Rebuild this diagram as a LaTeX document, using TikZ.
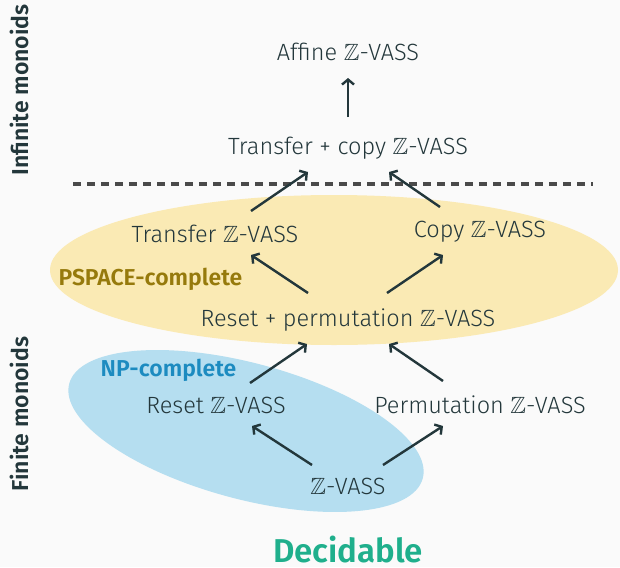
\documentclass[tikz,border=0pt]{standalone}
\usepackage{amssymb}
\usepackage{fontspec}
\setmainfont{Fira Sans Light}[BoldFont={Fira Sans SemiBold}]
\usetikzlibrary{arrows.meta}
\definecolor{bgc}{HTML}{FAFAFA}
\definecolor{txt}{HTML}{23373B}
\definecolor{yel}{HTML}{FAEAB4}
\definecolor{blu}{HTML}{B5DEF0}
\definecolor{psp}{HTML}{967A0C}
\definecolor{npc}{HTML}{1C8BC0}
\definecolor{dec}{HTML}{1FAF8C}
\definecolor{dsh}{HTML}{4A4A4A}
\newcommand{\ZZ}{$\mathbb{Z}$}
\tikzset{
  cls/.style={anchor=base, inner sep=0pt, text=txt, font=\fontsize{23.5}{28}\selectfont},
  lab/.style={anchor=base, inner sep=0pt, font=\fontsize{23}{28}\selectfont\bfseries},
  arr/.style={draw=txt, line width=2.4pt, -{Straight Barb[length=5pt,width=12pt,line width=2.4pt]}}
}
\begin{document}
\begin{tikzpicture}[x=1pt,y=-1pt]
\useasboundingbox (0,0) rectangle (620,567);
\fill[bgc] (0,0) rectangle (620,567);
% regions
\fill[yel] (334,270) ellipse [x radius=284, y radius=75];
\fill[blu, rotate around={-15:(246,431)}] (246,431) ellipse [x radius=183, y radius=68];
\draw[dsh, line width=3.5pt, dash pattern=on 8pt off 6pt] (73,184) -- (593,184);
% nodes
\node[cls] (aff) at (348,61) {Affine \ZZ-VASS};
\node[cls] (tc) at (348,154) {Transfer + copy \ZZ-VASS};
\node[cls] (tr) at (215,242) {Transfer \ZZ-VASS};
\node[cls] (cp) at (480,237) {Copy \ZZ-VASS};
\node[cls] (rp) at (348,326) {Reset + permutation \ZZ-VASS};
\node[cls] (rs) at (216,413) {Reset \ZZ-VASS};
\node[cls] (pm) at (480,413) {Permutation \ZZ-VASS};
\node[cls] (zv) at (348,494) {\ZZ-VASS};
% labels
\node[lab, text=psp] (pspace) at (150.5,285) {PSPACE-complete};
\node[lab, text=npc] (np) at (168.5,376) {NP-complete};
\node[lab, text=txt, rotate=90] (inf) at (28.5,90) {Infinite monoids};
\node[lab, text=txt, rotate=90] (fin) at (28,414) {Finite monoids};
\node[anchor=base, inner sep=0pt, text=dec, font=\fontsize{33}{38}\selectfont\bfseries] (decid) at (348,562.5) {Decidable};
% connectors
\draw[arr] ([shift={(0,-37)}]tc.base) -- ([shift={(0,17)}]aff.base);
\draw[arr] ([shift={(36,-31)}]tr.base) -- ([shift={(-40,18)}]tc.base);
\draw[arr] ([shift={(-40,-30)}]cp.base) -- ([shift={(41,18)}]tc.base);
\draw[arr] ([shift={(-40,-33)}]rp.base) -- ([shift={(36,13)}]tr.base);
\draw[arr] ([shift={(39,-33)}]rp.base) -- ([shift={(-37,18)}]cp.base);
\draw[arr] ([shift={(34,-30)}]rs.base) -- ([shift={(-41,18)}]rp.base);
\draw[arr] ([shift={(-37,-32)}]pm.base) -- ([shift={(41,18)}]rp.base);
\draw[arr] ([shift={(-36,-29)}]zv.base) -- ([shift={(36,13)}]rs.base);
\draw[arr] ([shift={(35,-29)}]zv.base) -- ([shift={(-37,13)}]pm.base);
\end{tikzpicture}
\end{document}
